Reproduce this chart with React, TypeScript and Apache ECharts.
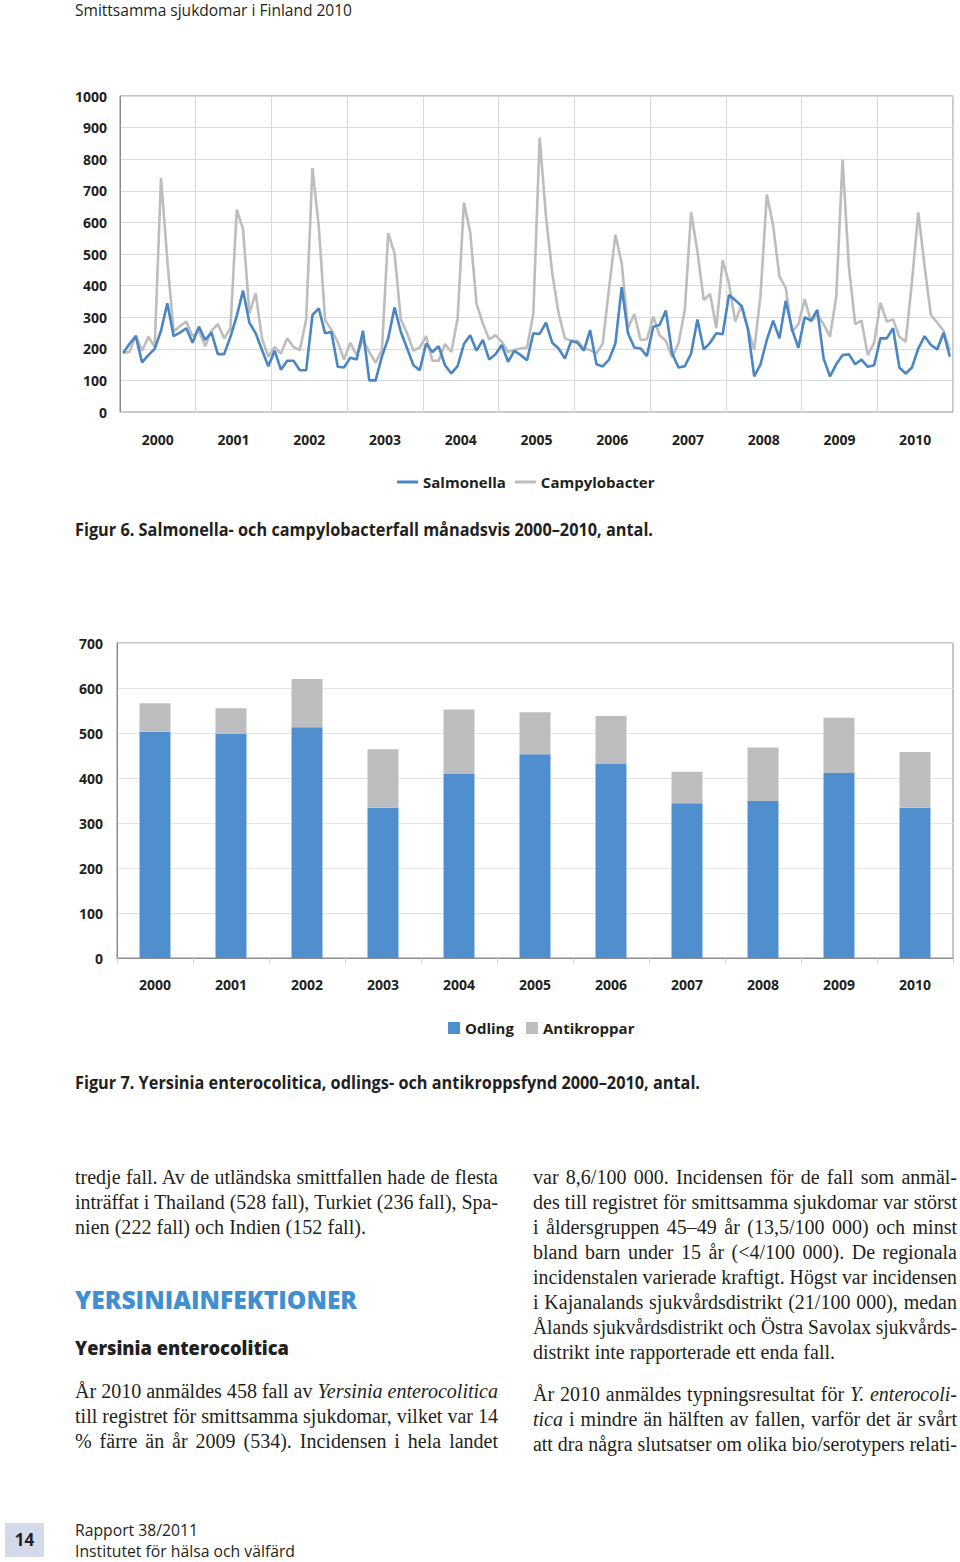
import React, { useEffect, useLayoutEffect, useRef } from "react";
import * as echarts from "echarts";

const years = ["2000", "2001", "2002", "2003", "2004", "2005", "2006", "2007", "2008", "2009", "2010"];
const monthNames = ["01", "02", "03", "04", "05", "06", "07", "08", "09", "10", "11", "12"];
const months = years.flatMap((y) => monthNames.map((m) => y + "-" + m));

const salmonella = [
  187, 215, 240, 157, 180, 200, 257, 344, 240, 251, 265, 219,
  270, 228, 251, 183, 183, 238, 304, 384, 283, 249, 196, 145,
  194, 134, 162, 162, 132, 132, 307, 328, 249, 253, 143, 141,
  172, 166, 257, 100, 100, 175, 233, 331, 254, 201, 148, 132,
  217, 190, 208, 148, 122, 145, 215, 243, 194, 228, 166, 183,
  212, 159, 194, 180, 164, 249, 247, 283, 219, 201, 169, 225,
  219, 194, 259, 151, 144, 166, 217, 395, 249, 204, 201, 177,
  270, 275, 321, 185, 141, 145, 185, 293, 198, 219, 249, 246,
  370, 354, 335, 262, 113, 151, 228, 289, 233, 352, 261, 203,
  300, 289, 323, 169, 113, 151, 180, 183, 151, 166, 143, 148,
  233, 233, 265, 141, 122, 141, 201, 240, 212, 198, 251, 175,
];

const campylobacter = [
  187, 190, 242, 194, 238, 206, 741, 480, 254, 272, 286, 240,
  257, 208, 257, 278, 233, 265, 640, 579, 312, 376, 233, 175,
  206, 185, 233, 206, 196, 293, 772, 587, 291, 260, 222, 166,
  219, 180, 228, 190, 156, 196, 566, 503, 293, 249, 194, 204,
  240, 162, 162, 215, 190, 296, 663, 568, 342, 280, 230, 243,
  222, 190, 196, 201, 204, 312, 868, 619, 439, 312, 233, 225,
  225, 201, 196, 185, 217, 392, 561, 471, 265, 310, 228, 230,
  302, 243, 225, 173, 217, 323, 632, 508, 354, 374, 265, 481,
  407, 286, 339, 265, 196, 370, 688, 589, 429, 392, 254, 278,
  357, 286, 307, 278, 238, 365, 799, 460, 278, 289, 180, 219,
  346, 286, 293, 238, 222, 413, 632, 460, 307, 283, 257, 196,
];

const odling = [503, 498, 513, 334, 409, 453, 431, 344, 349, 411, 334];
const antikroppar = [63, 57, 107, 130, 143, 93, 107, 70, 119, 123, 124];

const BLUE_LINE = "#4a86c4";
const GRAY_LINE = "#bdbdbd";
const BLUE_BAR = "#4f8fcd";
const GRAY_BAR = "#bcbdbf";
const TEXT = "#231f20";
const SANS = "'Open Sans', 'Noto Sans', sans-serif";
const SERIF = "'Liberation Serif', 'DejaVu Serif', serif";

type TLineProps = {
  x: number;
  yc: number;
  w: number;
  mode: "justify" | "fit";
  lh?: number;
  style?: React.CSSProperties;
  children: React.ReactNode;
};

function TLine({ x, yc, w, mode, lh = 25, style, children }: TLineProps) {
  const ref = useRef<HTMLDivElement>(null);
  useLayoutEffect(() => {
    const el = ref.current;
    if (!el) return;
    const span = el.firstChild as HTMLElement;
    const nat = span.getBoundingClientRect().width;
    if (mode === "justify" && nat < w - 1) {
      el.style.width = w + "px";
      el.style.whiteSpace = "normal";
      el.style.textAlign = "justify";
      (el.style as any).textAlignLast = "justify";
      span.style.display = "inline";
    } else if (nat > 0) {
      span.style.transform = `scaleX(${w / nat})`;
    }
  }, []);
  return (
    <div
      ref={ref}
      style={{
        position: "absolute",
        left: x,
        top: yc - lh / 2,
        height: lh,
        lineHeight: lh + "px",
        whiteSpace: "nowrap",
        color: TEXT,
        ...style,
      }}
    >
      <span style={{ display: "inline-block", transformOrigin: "0 0" }}>{children}</span>
    </div>
  );
}

function Charts() {
  const ref = useRef<HTMLDivElement>(null);
  useEffect(() => {
    if (!ref.current) return;
    const chart = echarts.init(ref.current, null, { renderer: "svg" });
    const labelStyle = { color: TEXT, fontFamily: SANS, fontWeight: "bold" as const, fontSize: 14 };
    const plain = (v: number) => String(v);
    chart.setOption({
      animation: false,
      backgroundColor: "transparent",
      grid: [
        { left: 120, top: 96, width: 833, height: 316, show: true, borderColor: "#8c8c8c", borderWidth: 1, backgroundColor: "transparent" },
        { left: 117, top: 643, width: 836, height: 315, show: true, borderColor: "#8c8c8c", borderWidth: 1, backgroundColor: "transparent" },
      ],
      legend: [
        {
          data: ["Salmonella", "Campylobacter"],
          left: 397,
          top: 473,
          padding: 0,
          icon: "rect",
          itemWidth: 21,
          itemHeight: 3,
          itemGap: 9,
          textStyle: { color: TEXT, fontFamily: SANS, fontWeight: "bold", fontSize: 15, lineHeight: 18 },
        },
        {
          data: ["Odling", "Antikroppar"],
          left: 448,
          top: 1019,
          padding: 0,
          icon: "rect",
          itemWidth: 12,
          itemHeight: 12,
          itemGap: 12,
          textStyle: { color: TEXT, fontFamily: SANS, fontWeight: "bold", fontSize: 15, lineHeight: 18 },
        },
      ],
      xAxis: [
        {
          gridIndex: 0,
          type: "category",
          data: months,
          boundaryGap: true,
          position: "bottom",
          show: false,
        },
        {
          gridIndex: 0,
          type: "category",
          data: years,
          boundaryGap: true,
          position: "bottom",
          axisLine: { show: true, lineStyle: { color: "#d0d0d0" } },
          axisTick: { show: false },
          axisLabel: { ...labelStyle, margin: 20 },
          splitLine: { show: true, lineStyle: { color: "#d9d9d9", width: 1 } },
        },
        {
          gridIndex: 1,
          type: "category",
          data: years,
          boundaryGap: true,
          position: "bottom",
          axisLine: { show: true, lineStyle: { color: "#8c8c8c" } },
          axisTick: { show: true, length: 5, lineStyle: { color: "#cfcfcf" } },
          axisLabel: { ...labelStyle, margin: 19 },
          splitLine: { show: false },
        },
      ],
      yAxis: [
        {
          gridIndex: 0,
          type: "value",
          min: 0,
          max: 1000,
          interval: 100,
          axisLine: { show: true, lineStyle: { color: "#8c8c8c" } },
          axisTick: { show: false },
          axisLabel: { ...labelStyle, margin: 13, formatter: plain },
          splitLine: { show: true, lineStyle: { color: "#d9d9d9", width: 1 } },
        },
        {
          gridIndex: 1,
          type: "value",
          min: 0,
          max: 700,
          interval: 100,
          axisLine: { show: true, lineStyle: { color: "#8c8c8c" } },
          axisTick: { show: false },
          axisLabel: { ...labelStyle, margin: 14, formatter: plain },
          splitLine: { show: true, lineStyle: { color: "#e3e3e3", width: 1 } },
        },
      ],
      series: [
        {
          name: "Campylobacter",
          type: "line",
          xAxisIndex: 0,
          yAxisIndex: 0,
          data: campylobacter,
          showSymbol: false,
          color: GRAY_LINE,
          lineStyle: { color: GRAY_LINE, width: 2.6 },
        },
        {
          name: "Salmonella",
          type: "line",
          xAxisIndex: 0,
          yAxisIndex: 0,
          data: salmonella,
          showSymbol: false,
          color: BLUE_LINE,
          lineStyle: { color: BLUE_LINE, width: 2.6 },
        },
        {
          name: "Odling",
          type: "bar",
          xAxisIndex: 2,
          yAxisIndex: 1,
          stack: "yersinia",
          data: odling,
          barWidth: 31,
          color: BLUE_BAR,
          itemStyle: { color: BLUE_BAR },
        },
        {
          name: "Antikroppar",
          type: "bar",
          xAxisIndex: 2,
          yAxisIndex: 1,
          stack: "yersinia",
          data: antikroppar,
          barWidth: 31,
          color: GRAY_BAR,
          itemStyle: { color: GRAY_BAR },
        },
      ],
    });
    return () => chart.dispose();
  }, []);
  return <div ref={ref} style={{ position: "absolute", left: 0, top: 0, width: 960, height: 1100 }} />;
}

export default function App() {
  const body: React.CSSProperties = { fontFamily: SERIF, fontSize: 20 };
  const cap: React.CSSProperties = { fontFamily: SANS, fontWeight: 700, fontSize: 17 };
  return (
    <div style={{ position: "absolute", left: 0, top: 0, width: 960, height: 1562, background: "#fff", overflow: "hidden" }}>
      <TLine x={75} yc={10} w={277} mode="fit" lh={20} style={{ fontFamily: SANS, fontSize: 16 }}>
        Smittsamma sjukdomar i Finland 2010
      </TLine>
      <Charts />
      <TLine x={75} yc={530} w={578} mode="fit" lh={22} style={cap}>
        Figur 6. Salmonella- och campylobacterfall månadsvis 2000–2010, antal.
      </TLine>
      <TLine x={75} yc={1083} w={625} mode="fit" lh={22} style={cap}>
        Figur 7. Yersinia enterocolitica, odlings- och antikroppsfynd 2000–2010, antal.
      </TLine>

      {/* Left column */}
      <TLine x={75} yc={1177} w={423} mode="justify" style={body}>
        tredje fall. Av de utländska smittfallen hade de flesta
      </TLine>
      <TLine x={75} yc={1202} w={423} mode="justify" style={body}>
        inträffat i Thailand (528 fall), Turkiet (236 fall), Spa-
      </TLine>
      <TLine x={75} yc={1227} w={291} mode="fit" style={body}>
        nien (222 fall) och Indien (152 fall).
      </TLine>
      <TLine x={75} yc={1300} w={282} mode="fit" lh={30} style={{ fontFamily: SANS, fontWeight: 800, fontSize: 24, color: "#3f8fd2" }}>
        YERSINIAINFEKTIONER
      </TLine>
      <TLine x={75} yc={1348} w={214} mode="fit" lh={24} style={{ fontFamily: SANS, fontWeight: 800, fontSize: 19 }}>
        Yersinia enterocolitica
      </TLine>
      <TLine x={75} yc={1391} w={423} mode="justify" style={body}>
        År 2010 anmäldes 458 fall av <i>Yersinia enterocolitica</i>
      </TLine>
      <TLine x={75} yc={1416} w={423} mode="justify" style={body}>
        till registret för smittsamma sjukdomar, vilket var 14
      </TLine>
      <TLine x={75} yc={1441} w={423} mode="justify" style={body}>
        % färre än år 2009 (534). Incidensen i hela landet
      </TLine>

      {/* Right column */}
      <TLine x={533} yc={1177} w={424} mode="justify" style={body}>
        var 8,6/100 000. Incidensen för de fall som anmäl-
      </TLine>
      <TLine x={533} yc={1202} w={424} mode="justify" style={body}>
        des till registret för smittsamma sjukdomar var störst
      </TLine>
      <TLine x={533} yc={1227} w={424} mode="justify" style={body}>
        i åldersgruppen 45–49 år (13,5/100 000) och minst
      </TLine>
      <TLine x={533} yc={1252} w={424} mode="justify" style={body}>
        bland barn under 15 år (&lt;4/100 000). De regionala
      </TLine>
      <TLine x={533} yc={1277} w={424} mode="justify" style={body}>
        incidenstalen varierade kraftigt. Högst var incidensen
      </TLine>
      <TLine x={533} yc={1302} w={424} mode="justify" style={body}>
        i Kajanalands sjukvårdsdistrikt (21/100 000), medan
      </TLine>
      <TLine x={533} yc={1327} w={424} mode="justify" style={body}>
        Ålands sjukvårdsdistrikt och Östra Savolax sjukvårds-
      </TLine>
      <TLine x={533} yc={1352} w={302} mode="fit" style={body}>
        distrikt inte rapporterade ett enda fall.
      </TLine>
      <TLine x={533} yc={1394} w={424} mode="justify" style={body}>
        År 2010 anmäldes typningsresultat för <i>Y. enterocoli-</i>
      </TLine>
      <TLine x={533} yc={1419} w={424} mode="justify" style={body}>
        <i>tica</i> i mindre än hälften av fallen, varför det är svårt
      </TLine>
      <TLine x={533} yc={1444} w={424} mode="justify" style={body}>
        att dra några slutsatser om olika bio/serotypers relati-
      </TLine>

      {/* Footer */}
      <div
        style={{
          position: "absolute",
          left: 5,
          top: 1523,
          width: 39,
          height: 34,
          background: "#d3dbea",
          color: TEXT,
          fontFamily: SANS,
          fontWeight: 700,
          fontSize: 17,
          lineHeight: "34px",
          textAlign: "center",
        }}
      >
        14
      </div>
      <TLine x={75} yc={1529} w={123} mode="fit" lh={21} style={{ fontFamily: SANS, fontSize: 17 }}>
        Rapport 38/2011
      </TLine>
      <TLine x={75} yc={1550} w={220} mode="fit" lh={21} style={{ fontFamily: SANS, fontSize: 17 }}>
        Institutet för hälsa och välfärd
      </TLine>
    </div>
  );
}
